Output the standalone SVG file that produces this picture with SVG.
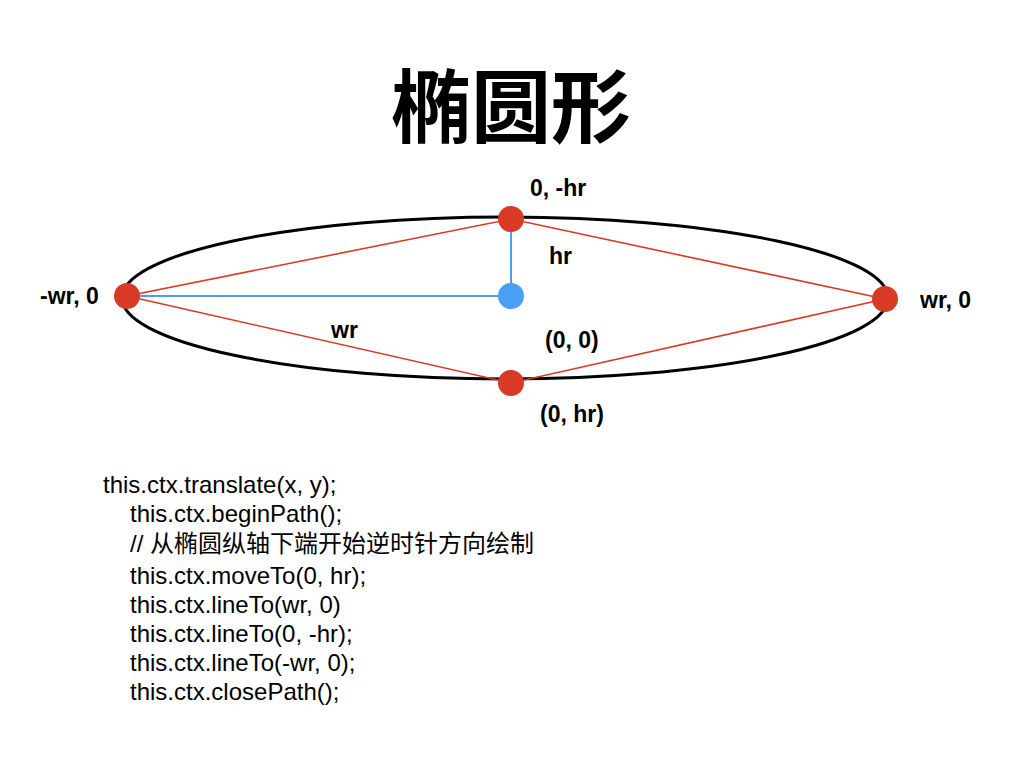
<svg xmlns="http://www.w3.org/2000/svg" width="1024" height="768" viewBox="0 0 1024 768">
<style>
.lbl{font-family:"Liberation Sans",Arial,sans-serif;font-weight:bold;font-size:23px;fill:#000}
.code{font-family:"Liberation Sans","Noto Sans CJK SC",sans-serif;font-size:24px;fill:#000}
.red{fill:#d93a26}
.blue{fill:#4a9ff5}
.rl{stroke:#d93a26;stroke-width:1.6;fill:none}
.bl{stroke:#4a9ff5;stroke-width:2;fill:none}
</style>
<rect width="1024" height="768" fill="#fff"/>
<text x="511" y="136" text-anchor="middle" style="font-family:'Noto Sans CJK SC',sans-serif;font-weight:bold;font-size:80px">椭圆形</text>
<ellipse cx="505" cy="298" rx="383" ry="81" fill="none" stroke="#000" stroke-width="3"/>
<g id="connectors">
<line class="bl" x1="127" y1="296" x2="511" y2="296"/>
<line class="bl" x1="511" y1="296" x2="511" y2="219"/>
<polygon class="rl" points="127,296 511,219 885,299 511,383"/>
</g>
<g id="left"><circle class="red" cx="127" cy="296" r="13"/><text class="lbl" x="40" y="304">-wr, 0</text></g>
<g id="top"><circle class="red" cx="511" cy="219" r="13"/><text class="lbl" x="530" y="196">0, -hr</text></g>
<g id="right"><circle class="red" cx="885" cy="299" r="13"/><text class="lbl" x="920" y="308">wr, 0</text></g>
<g id="bottom"><circle class="red" cx="511" cy="383" r="13"/><text class="lbl" x="540" y="422">(0, hr)</text></g>
<g id="center"><circle class="blue" cx="511" cy="296" r="13"/><text class="lbl" x="545" y="348">(0, 0)</text></g>
<text class="lbl" x="549" y="264">hr</text>
<text class="lbl" x="331" y="338">wr</text>
<g id="code">
<text class="code" x="103" y="493">this.ctx.translate(x, y);</text>
<text class="code" x="130" y="522">this.ctx.beginPath();</text>
<text class="code" x="130" y="552">// 从椭圆纵轴下端开始逆时针方向绘制</text>
<text class="code" x="130" y="584">this.ctx.moveTo(0, hr);</text>
<text class="code" x="130" y="613">this.ctx.lineTo(wr, 0)</text>
<text class="code" x="130" y="642">this.ctx.lineTo(0, -hr);</text>
<text class="code" x="130" y="671">this.ctx.lineTo(-wr, 0);</text>
<text class="code" x="130" y="700">this.ctx.closePath();</text>
</g>
</svg>
